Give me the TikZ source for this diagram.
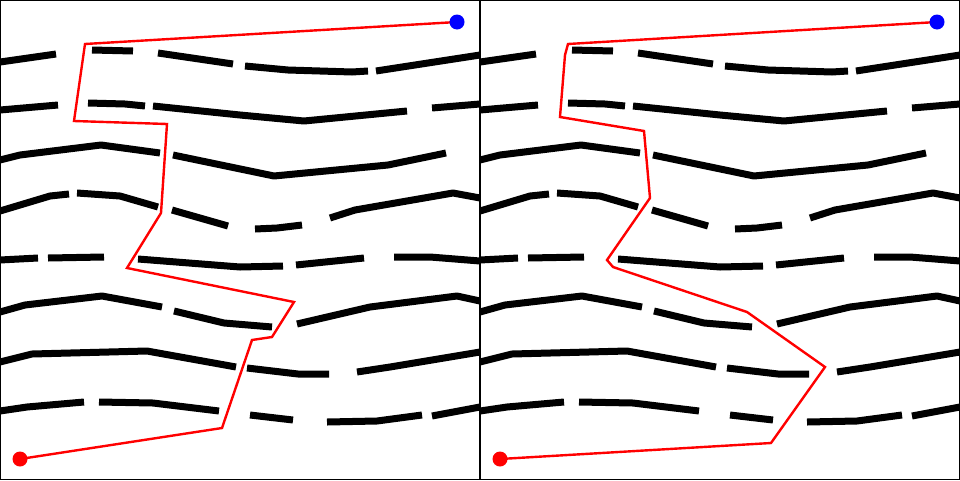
\documentclass[tikz,border=0pt]{standalone}
\begin{document}
\begin{tikzpicture}[x=1pt,y=-1pt,
  wall/.style={line width=7pt,line cap=butt,line join=round,black},
  frame/.style={line width=1.2pt,black},
  route/.style={line width=2.4pt,red,line join=miter},
  startdot/.style={circle,fill=red,inner sep=0pt,minimum size=15pt},
  goaldot/.style={circle,fill=blue,inner sep=0pt,minimum size=15pt}]
\useasboundingbox (0,0) rectangle (960,480);
\fill[white] (0,0) rectangle (960,480);
\newcommand{\mazewalls}{%
  % row 1
  \draw[wall] (0,62)--(56,54);
  \draw[wall] (92,50)--(133,51);
  \draw[wall] (158,53)--(233,64);
  \draw[wall] (245,66)--(288,70)--(352,72)--(368,71);
  \draw[wall] (376,71)--(480,55);
  % row 2
  \draw[wall] (0,110)--(58,105);
  \draw[wall] (88,103)--(125,104)--(145,106);
  \draw[wall] (153,106)--(240,115)--(304,121)--(407,111);
  \draw[wall] (432,108)--(480,104);
  % row 3
  \draw[wall] (0,160)--(20,155)--(101,145)--(160,153);
  \draw[wall] (173,155)--(274,176)--(388,165)--(446,153);
  % row 4
  \draw[wall] (0,211)--(50,196)--(69,194);
  \draw[wall] (77,193)--(120,196)--(158,207);
  \draw[wall] (172,210)--(228,226);
  \draw[wall] (255,229)--(277,228)--(302,225);
  \draw[wall] (330,218)--(355,210)--(453,193)--(480,198);
  % row 5
  \draw[wall] (0,260)--(38,258);
  \draw[wall] (48,258)--(104,257);
  \draw[wall] (138,259)--(240,267)--(283,266);
  \draw[wall] (296,265)--(364,258);
  \draw[wall] (394,257)--(430,257)--(480,261);
  % row 6
  \draw[wall] (0,312)--(25,305)--(102,296)--(162,307);
  \draw[wall] (174,311)--(224,323)--(272,327);
  \draw[wall] (297,324)--(370,307)--(457,296)--(480,301);
  % row 7
  \draw[wall] (0,362)--(32,354)--(147,351)--(236,367);
  \draw[wall] (247,368)--(298,374)--(329,374);
  \draw[wall] (357,372)--(390,367)--(480,352);
  % row 8
  \draw[wall] (0,411)--(27,407)--(84,402);
  \draw[wall] (99,402)--(153,403)--(219,411);
  \draw[wall] (250,415)--(293,420);
  \draw[wall] (327,422)--(377,421)--(422,415);
  \draw[wall] (432,416)--(480,407);
}
% left panel
\begin{scope}
  \mazewalls
\end{scope}
% right panel
\begin{scope}[xshift=480pt]
  \mazewalls
\end{scope}
% frames
\draw[frame] (0.6,0.6) rectangle (479.4,479.4);
\draw[frame] (480.6,0.6) rectangle (959.4,479.4);
% left route
\coordinate (sL) at (20,459);
\coordinate (gL) at (457,22);
\draw[route] (sL)--(222,428)--(252,340)--(272,337)--(294,302)--(127,268)
  --(161,213)--(167,124)--(74,121)--(85,44)--(gL);
\node[startdot] (startL) at (sL) {};
\node[goaldot] (goalL) at (gL) {};
% right route
\coordinate (sR) at (500,459);
\coordinate (gR) at (937,22);
\draw[route] (sR)--(771,443)--(825,367)--(747,312)--(613,267)--(607,260)
  --(650,198)--(644,131)--(560,117)--(565,55)--(568,44)--(gR);
\node[startdot] (startR) at (sR) {};
\node[goaldot] (goalR) at (gR) {};
\end{tikzpicture}
\end{document}
